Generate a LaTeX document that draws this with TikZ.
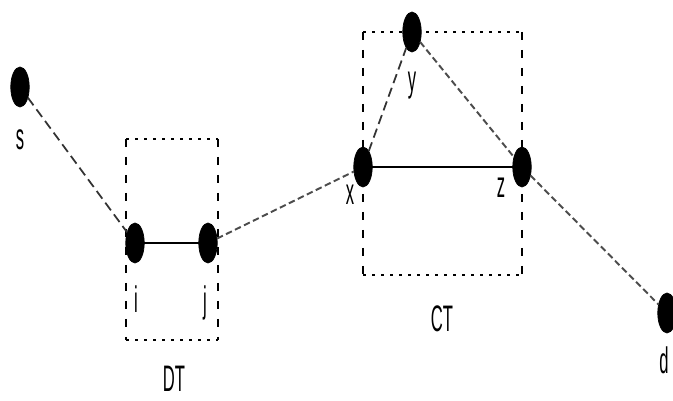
\documentclass[tikz,border=0pt]{standalone}
\usepackage{fontspec}
\newfontfamily\lblfont[FakeStretch=0.45]{Liberation Sans}
\usepackage{tikz}
\usetikzlibrary{shapes.geometric}

\begin{document}
\begin{tikzpicture}[
  vertex/.style={ellipse, fill=black, draw=black, minimum width=0.37cm,
    minimum height=0.80cm, inner sep=0pt, outer sep=0pt},
  lbl/.style={font=\lblfont\fontsize{21}{24}\selectfont, inner sep=0pt, anchor=base},
  link/.style={line width=1.5pt, black},
  longdash/.style={line width=1.0pt, black!80, dash pattern=on 0.19cm off 0.10cm},
  shortdash/.style={line width=1.1pt, black!70, dash pattern=on 0.13cm off 0.07cm},
  boxh/.style={line width=1.3pt, dash pattern=on 0.05cm off 0.13cm},
  boxv/.style={line width=1.0pt, dash pattern=on 0.17cm off 0.19cm},
]
\useasboundingbox (0,0) rectangle (13.46,8);

% DT box
\draw[boxh] (2.52,5.22) -- (4.36,5.22) (2.52,1.20) -- (4.36,1.20);
\draw[boxv] (2.52,5.22) -- (2.52,1.20) (4.36,5.22) -- (4.36,1.20);

% CT box
\draw[boxh] (7.26,7.36) -- (10.44,7.36) (7.26,2.50) -- (10.44,2.50);
\draw[boxv] (7.26,7.36) -- (7.26,2.50) (10.44,7.36) -- (10.44,2.50);

% Vertices
\node[vertex] (s) at (0.40,6.26) {};
\node[vertex] (i) at (2.70,3.14) {};
\node[vertex] (j) at (4.16,3.14) {};
\node[vertex] (x) at (7.26,4.66) {};
\node[vertex] (y) at (8.24,7.36) {};
\node[vertex] (z) at (10.44,4.66) {};
\node[vertex] (d) at (13.34,1.74) {};

% Labels
\node[lbl] (sl) at (0.40,5.00) {s};
\node[lbl] (il) at (2.72,1.74) {i};
\node[lbl] (jl) at (4.10,1.74) {j};
\node[lbl] (xl) at (7.00,3.90) {x};
\node[lbl] (yl) at (8.24,6.16) {y};
\node[lbl] (zl) at (10.02,4.04) {z};
\node[lbl] (dl) at (13.28,0.54) {d};
\node[lbl] (dt) at (3.48,0.18) {DT};
\node[lbl] (ct) at (8.84,1.36) {CT};

% Links
\draw[longdash] (s) -- (i);
\draw[link] (i) -- (j);
\draw[shortdash] (j) -- (x);
\draw[longdash] (x) -- (y);
\draw[link] (x) -- (z);
\draw[shortdash] (y) -- (z);
\draw[shortdash] (z) -- (d);

\end{tikzpicture}
\end{document}
